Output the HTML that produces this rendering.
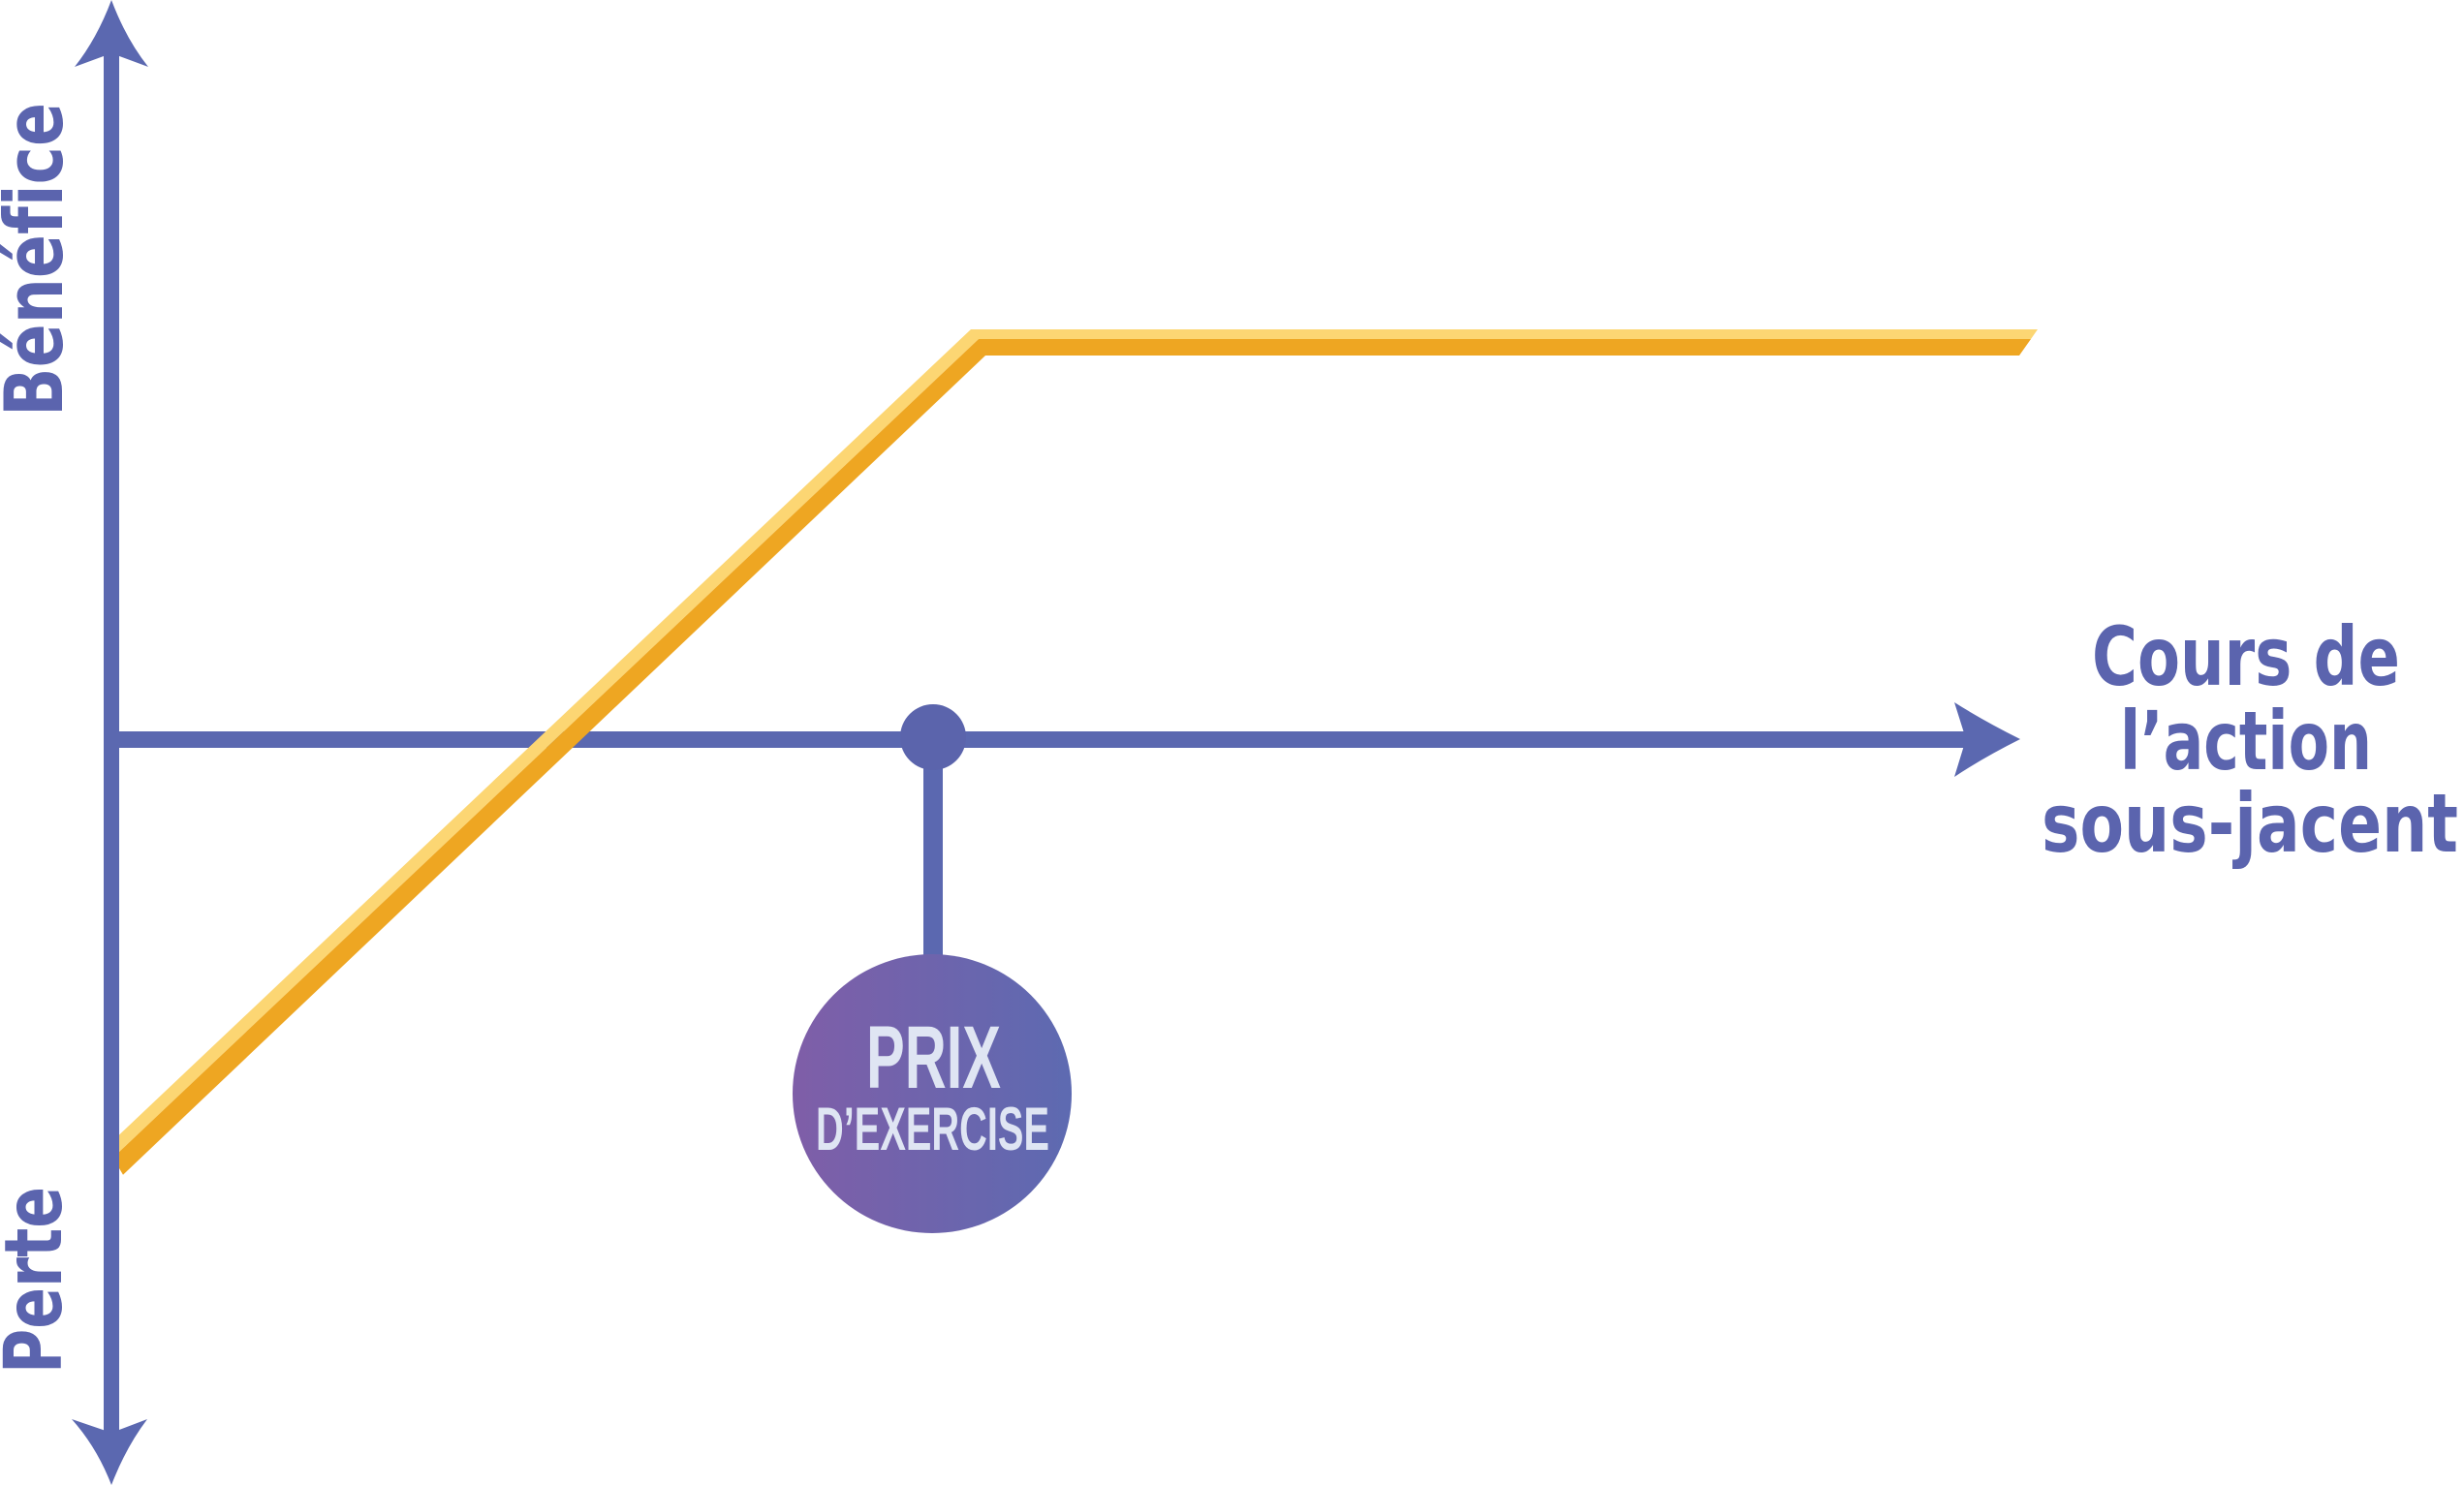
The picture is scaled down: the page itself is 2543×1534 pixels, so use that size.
<!DOCTYPE html>
<html>
<head>
<meta charset="utf-8">
<style>
  html, body { margin: 0; padding: 0; background: #ffffff; }
  svg { display: block; }
  text { font-variant-ligatures: none; font-feature-settings: "liga" 0, "clig" 0; }
</style>
</head>
<body>
<svg width="2543" height="1534" viewBox="0 0 2543 1534" xmlns="http://www.w3.org/2000/svg">
  <defs>
    <linearGradient id="g" x1="0" y1="0" x2="1" y2="0">
      <stop offset="0" stop-color="#7f5ea8"/>
      <stop offset="1" stop-color="#5d6ab1"/>
    </linearGradient>
  </defs>
  <rect width="2543" height="1534" fill="#ffffff"/>

  <!-- horizontal axis -->
  <rect x="115" y="755" width="1918" height="17" fill="#5b68b0"/>
  <path d="M2085,763 Q2047,744 2017,725 L2029,763 L2017,802 Q2047,782 2085,763 Z" fill="#5b68b0"/>

  <!-- payoff line -->
  <polygon points="123,1171.5 1002,340 2103,340 2096,350 1010,350 123,1189.1" fill="#fcd673"/>
  <polygon points="123,1189.1 1010,350 2096,350 2084,367 1017,367 127,1212.7 123,1206" fill="#eea622"/>

  <!-- vertical axis -->
  <rect x="107" y="55" width="16" height="1424" fill="#5b68b0"/>
  <path d="M115,0 Q100,40 77,69 L115,55 L153,69 Q130,40 115,0 Z" fill="#5b68b0"/>
  <path d="M115,1533 Q100,1494 74,1465 L115,1479 L152,1465 Q130,1494 115,1533 Z" fill="#5b68b0"/>

  <!-- strike marker -->
  <rect x="953" y="761" width="20" height="230" fill="#5b68b0"/>
  <circle cx="963" cy="761" r="34" fill="#5b64ac"/>
  <circle cx="962" cy="1129" r="144" fill="url(#g)"/>

  <g font-family="Liberation Sans, Arial, sans-serif" font-weight="bold" fill="#dfe5f3">
    <text x="894" y="1123" font-size="92" textLength="139" lengthAdjust="spacingAndGlyphs">PRIX</text>
    <text x="842" y="1187" font-size="63" textLength="241" lengthAdjust="spacingAndGlyphs">D’EXERCISE</text>
  </g>

  <g font-family="DejaVu Sans, Liberation Sans, sans-serif" font-weight="bold" fill="#5b64ae">
    <text transform="translate(64,430) rotate(-90)" font-size="83" textLength="324" lengthAdjust="spacingAndGlyphs">Bénéfice</text>
    <text transform="translate(63,1418) rotate(-90)" font-size="82" textLength="193" lengthAdjust="spacingAndGlyphs">Perte</text>

    <text x="2159" y="707" font-size="84" textLength="318" lengthAdjust="spacingAndGlyphs">Cours de</text>
    <text x="2188" y="794" font-size="84" textLength="260" lengthAdjust="spacingAndGlyphs">l’action</text>
    <text x="2107" y="879" font-size="84" textLength="430" lengthAdjust="spacingAndGlyphs">sous-jacent</text>
  </g>
</svg>
</body>
</html>
